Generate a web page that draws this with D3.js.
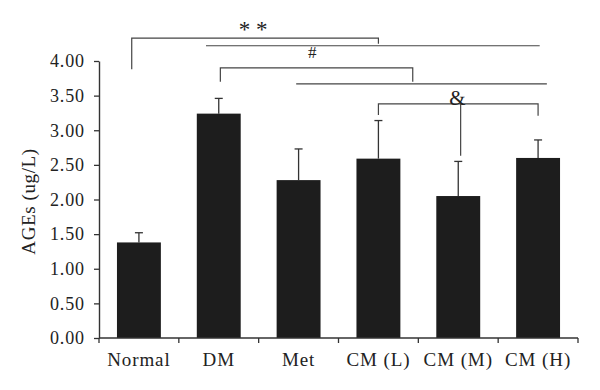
<!DOCTYPE html>
<html>
<head>
<meta charset="utf-8">
<script src="https://cdn.jsdelivr.net/npm/d3@7"></script>
<style>
  body { margin: 0; background: #fff; }
  svg text { font-family: "Liberation Serif", "Times New Roman", serif; fill: #222; }
</style>
</head>
<body>
<svg id="canvas" width="600" height="390"></svg>
<script>
// groups and values
const groups = ["Normal", "DM", "Met", "CM (L)", "CM (M)", "CM (H)"]
const means = [1.38, 3.24, 2.28, 2.59, 2.05, 2.60]
const errTops = [1.52, 3.46, 2.73, 3.14, 2.55, 2.86]
const yTicks = [0, 0.5, 1, 1.5, 2, 2.5, 3, 3.5, 4]

// significance brackets: x in group index units, y in data units
const brackets = [
    [[-0.09, 3.88], [-0.09, 4.33], [3.0, 4.33], [3.0, 4.25]],
    [[0.84, 4.22], [5.02, 4.22]],
    [[1.02, 3.70], [1.02, 3.90], [3.43, 3.90], [3.43, 3.70]],
    [[1.97, 3.67], [5.11, 3.67]],
    [[3.0, 3.22], [3.0, 3.38], [5.0, 3.38], [5.0, 3.21]],
    [[4.03, 3.38], [4.03, 2.63]]
]
const marks = [
    {label: "* *", x: 1.43, y: 4.35, size: 23},
    {label: "#", x: 2.17, y: 4.04, size: 17},
    {label: "&", x: 3.99, y: 3.37, size: 21}
]

const margin = {top: 61, bottom: 52, left: 99, right: 22}
const width = 600, height = 390

const svg = d3.select("#canvas")

const x = d3.scaleBand()
    .domain(groups)
    .range([margin.left, width - margin.right])
    .paddingInner(0.45)
    .paddingOuter(0.225)

// linear helper for bracket positions (group index -> px)
const xIdx = d3.scaleLinear()
    .domain([-0.5, groups.length - 0.5])
    .range([margin.left, width - margin.right])

const y = d3.scaleLinear()
    .domain([0, 4])
    .range([height - margin.bottom, margin.top])

//bars
svg.append("g").selectAll("rect")
    .data(groups)
    .enter().append("rect")
    .attr("x", d => x(d))
    .attr("width", x.bandwidth())
    .attr("y", (d, i) => y(means[i]))
    .attr("height", (d, i) => y(0) - y(means[i]))
    .attr("fill", "#1d1d1d")

//error bars, upper half only
const err = svg.append("g")
    .attr("stroke", "#333")
    .attr("stroke-width", 1.3)
groups.forEach((g, i) => {
    const cx = x(g) + x.bandwidth() / 2
    err.append("line")
        .attr("x1", cx).attr("x2", cx)
        .attr("y1", y(means[i])).attr("y2", y(errTops[i]))
    err.append("line")
        .attr("x1", cx - 4).attr("x2", cx + 4)
        .attr("y1", y(errTops[i])).attr("y2", y(errTops[i]))
})

//y axis
const yAxis = svg.append("g")
    .attr("transform", `translate(${margin.left},0)`)
    .call(d3.axisLeft(y).tickValues(yTicks).tickFormat(d3.format(".2f")).tickSize(5).tickSizeOuter(0).tickPadding(9))
yAxis.selectAll("text")
    .attr("font-size", 18)
    .attr("letter-spacing", 0.9)
    .attr("fill", "#222")

//x axis: ticks on band borders
const xAxis = svg.append("g")
    .attr("transform", `translate(0,${y(0)})`)
xAxis.append("line")
    .attr("x1", margin.left).attr("x2", width - margin.right)
    .attr("stroke", "#333").attr("stroke-width", 1.4)
xAxis.selectAll(".tk")
    .data(d3.range(groups.length + 1))
    .enter().append("line")
    .attr("class", "tk")
    .attr("x1", d => xIdx(d - 0.5)).attr("x2", d => xIdx(d - 0.5))
    .attr("y1", 0).attr("y2", 5)
    .attr("stroke", "#333").attr("stroke-width", 1.3)
xAxis.selectAll(".lbl")
    .data(groups)
    .enter().append("text")
    .attr("class", "lbl")
    .attr("x", d => x(d) + x.bandwidth() / 2)
    .attr("y", 28)
    .attr("text-anchor", "middle")
    .attr("font-size", 19)
    .attr("letter-spacing", 0.9)
    .text(d => d)

yAxis.select(".domain").attr("stroke", "#333").attr("stroke-width", 1.4)
yAxis.selectAll(".tick line").attr("stroke", "#333").attr("stroke-width", 1.3)

//axis title
svg.append("text")
    .attr("transform", `translate(35,${(y(0) + y(4)) / 2 + 2}) rotate(-90)`)
    .attr("text-anchor", "middle")
    .attr("font-size", 19)
    .attr("letter-spacing", 0.6)
    .text("AGEs (ug/L)")

//significance brackets
const line = d3.line().x(d => xIdx(d[0])).y(d => y(d[1]))
svg.append("g").selectAll("path")
    .data(brackets)
    .enter().append("path")
    .attr("d", line)
    .attr("fill", "none")
    .attr("stroke", "#444")
    .attr("stroke-width", 1.2)

svg.append("g").selectAll("text")
    .data(marks)
    .enter().append("text")
    .attr("x", d => xIdx(d.x))
    .attr("y", d => y(d.y))
    .attr("text-anchor", "middle")
    .attr("font-size", d => d.size)
    .attr("xml:space", "preserve")
    .text(d => d.label)
</script>
</body>
</html>
